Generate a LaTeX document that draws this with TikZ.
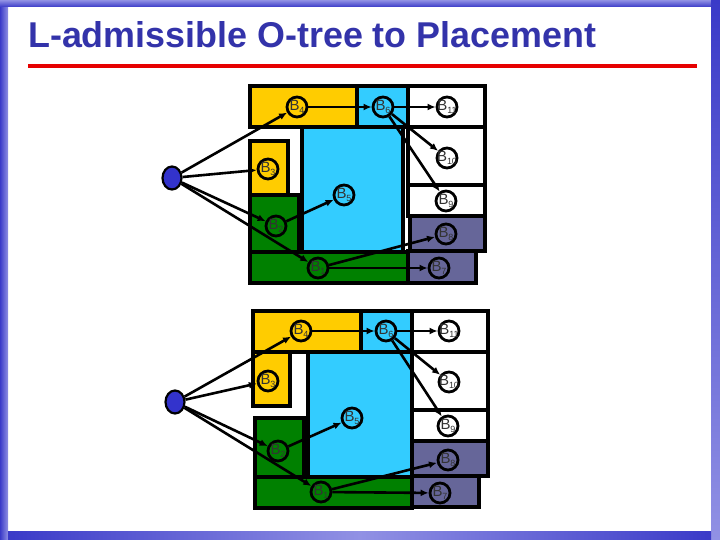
\documentclass[tikz,border=0pt]{standalone}
\usepackage{fontspec}
\setmainfont{Liberation Sans}
\usetikzlibrary{arrows.meta,shapes.geometric}
\definecolor{ttl}{RGB}{51,51,170}
\definecolor{fr1}{RGB}{58,58,200}
\definecolor{fr2}{RGB}{145,145,228}
\definecolor{yel}{RGB}{255,204,0}
\definecolor{cya}{RGB}{51,204,255}
\definecolor{grn}{RGB}{0,128,0}
\definecolor{pur}{RGB}{102,102,153}
\definecolor{rootc}{RGB}{51,51,204}
\definecolor{redl}{RGB}{230,0,0}
\newcommand\blab[1]{B\raisebox{-0.4ex}{\fontsize{9}{9}\selectfont #1}}
\begin{document}
\begin{tikzpicture}[x=1bp,y=-1bp,
  blk/.style={draw=black,line width=3.2bp},
  bnode/.style={circle,draw=black,line width=2.8bp,minimum size=20bp,inner sep=0pt},
  rootnode/.style={ellipse,draw=black,line width=2.2bp,fill=rootc,minimum width=19bp,minimum height=23bp,inner sep=0pt},
  conn/.style={line width=2.6bp,-{Latex[length=8bp,width=7bp]}},
  lbl/.style={font=\fontsize{15}{15}\selectfont,text=black!80}]
\useasboundingbox (0,0) rectangle (720,540);
\fill[white] (0,0) rectangle (720,540);
% frame
\shade[left color=fr1,right color=fr2] (0,0) rectangle (8,540);
\shade[top color=fr2,bottom color=fr1] (0,0) rectangle (720,7);
\shade[top color=fr1,bottom color=fr2] (711,0) rectangle (720,540);
\shade[left color=fr1,right color=fr1,middle color=fr2] (8,531) rectangle (711,540);
% title
\node[anchor=base west,inner sep=0pt,text=ttl,font=\fontsize{36}{36}\selectfont\bfseries] (title) at (28,48) {L-admissible O-tree to Placement};
\draw[redl,line width=4bp] (28,66) -- (697,66);

% ===== top placement =====
\draw[blk,fill=yel] (250,86) rectangle (357,127);
\draw[blk,fill=cya] (357,86) rectangle (408,127);
\draw[blk,fill=white] (408,86) rectangle (485,127);
\draw[blk,fill=white] (408,127) rectangle (485,185);
\draw[blk,fill=white] (408,185) rectangle (485,216);
\draw[blk,fill=pur] (410,216) rectangle (485,251);
\draw[blk,fill=pur] (408,251) rectangle (476,283);
\draw[blk,fill=cya] (302,127) rectangle (403,252);
\draw[blk,fill=yel] (250,141) rectangle (288,195);
\draw[blk,fill=grn] (250,195) rectangle (299,252);
\draw[blk,fill=grn] (250,252) rectangle (408,283);

\node[rootnode] (r1) at (172,178) {};
\node[bnode,label={[lbl]center:\blab{4}}] (a4) at (297,107) {};
\node[bnode,label={[lbl]center:\blab{3}}] (a3) at (268,169) {};
\node[bnode,label={[lbl]center:\blab{2}}] (a2) at (276,226) {};
\node[bnode,label={[lbl]center:\blab{5}}] (a5) at (344,195) {};
\node[bnode,label={[lbl]center:\blab{1}}] (a1) at (318,268) {};
\node[bnode,label={[lbl]center:\blab{6}}] (a6) at (383,107) {};
\node[bnode,label={[lbl]center:\blab{11}}] (a11) at (447,107) {};
\node[bnode,label={[lbl]center:\blab{10}}] (a10) at (447,158) {};
\node[bnode,label={[lbl]center:\blab{9}}] (a9) at (446,201) {};
\node[bnode,label={[lbl]center:\blab{8}}] (a8) at (446,234) {};
\node[bnode,label={[lbl]center:\blab{7}}] (a7) at (439,268) {};

\draw[conn] (r1) -- (a4);
\draw[conn] (r1) -- (a3);
\draw[conn] (r1) -- (a2);
\draw[conn] (r1) -- (a1);
\draw[conn] (a4) -- (a6);
\draw[conn] (a2) -- (a5);
\draw[conn] (a6) -- (a11);
\draw[conn] (a6) -- (a10);
\draw[conn] (a6) -- (a9);
\draw[conn] (a1) -- (a8);
\draw[conn] (a1) -- (a7);

% ===== bottom placement =====
\draw[blk,fill=yel] (253,311) rectangle (361,352);
\draw[blk,fill=cya] (361,311) rectangle (412,352);
\draw[blk,fill=white] (412,311) rectangle (488,352);
\draw[blk,fill=white] (412,352) rectangle (488,410);
\draw[blk,fill=white] (412,410) rectangle (488,441);
\draw[blk,fill=pur] (412,441) rectangle (488,476);
\draw[blk,fill=pur] (412,476) rectangle (479,507);
\draw[blk,fill=cya] (308,352) rectangle (412,477);
\draw[blk,fill=yel] (253,352) rectangle (290,406);
\draw[blk,fill=grn] (255,418) rectangle (304,477);
\draw[blk,fill=grn] (255,477) rectangle (412,508);

\node[rootnode] (r2) at (175,402) {};
\node[bnode,label={[lbl]center:\blab{4}}] (b4) at (301,331) {};
\node[bnode,label={[lbl]center:\blab{3}}] (b3) at (268,381) {};
\node[bnode,label={[lbl]center:\blab{2}}] (b2) at (278,451) {};
\node[bnode,label={[lbl]center:\blab{5}}] (b5) at (352,418) {};
\node[bnode,label={[lbl]center:\blab{1}}] (b1) at (321,492) {};
\node[bnode,label={[lbl]center:\blab{6}}] (b6) at (386,331) {};
\node[bnode,label={[lbl]center:\blab{11}}] (b11) at (449,331) {};
\node[bnode,label={[lbl]center:\blab{10}}] (b10) at (449,382) {};
\node[bnode,label={[lbl]center:\blab{9}}] (b9) at (448,426) {};
\node[bnode,label={[lbl]center:\blab{8}}] (b8) at (448,460) {};
\node[bnode,label={[lbl]center:\blab{7}}] (b7) at (440,493) {};

\draw[conn] (r2) -- (b4);
\draw[conn] (r2) -- (b3);
\draw[conn] (r2) -- (b2);
\draw[conn] (r2) -- (b1);
\draw[conn] (b4) -- (b6);
\draw[conn] (b2) -- (b5);
\draw[conn] (b6) -- (b11);
\draw[conn] (b6) -- (b10);
\draw[conn] (b6) -- (b9);
\draw[conn] (b1) -- (b8);
\draw[conn] (b1) -- (b7);
\end{tikzpicture}
\end{document}
